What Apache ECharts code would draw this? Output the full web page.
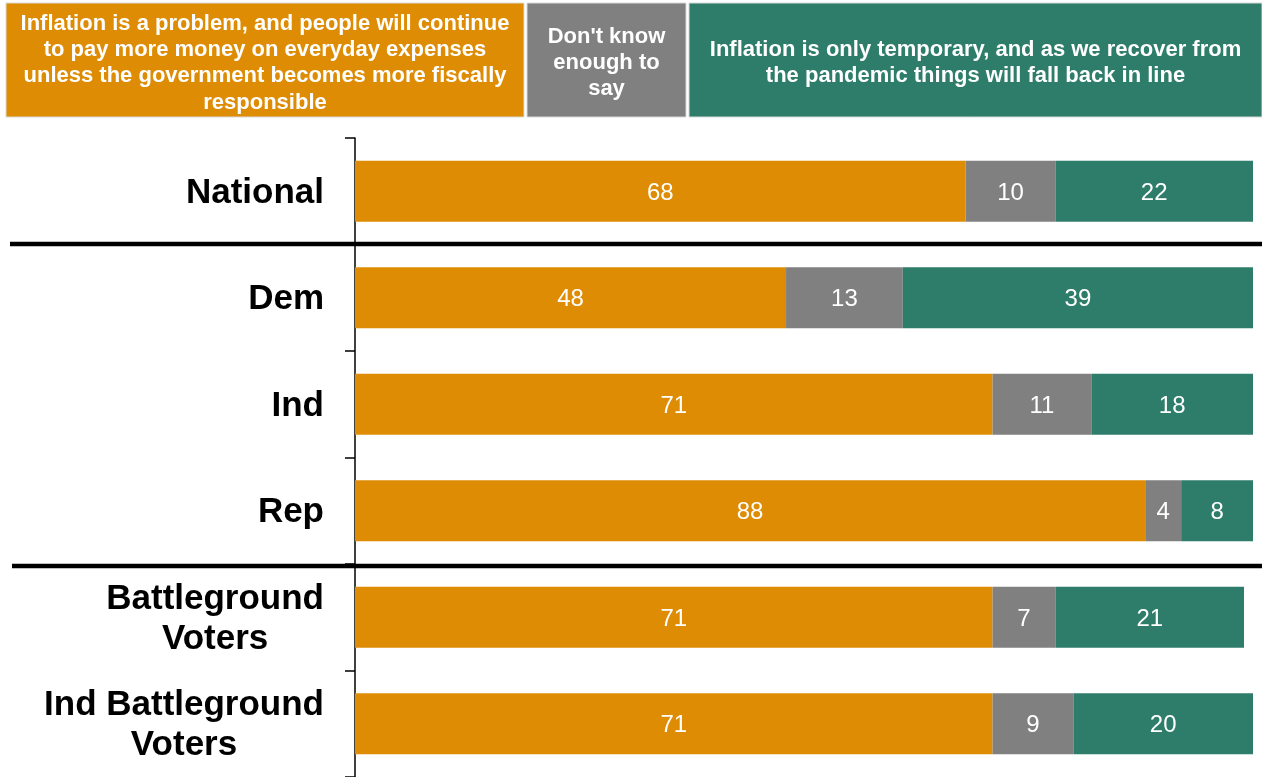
<!DOCTYPE html>
<html><head><meta charset="utf-8">
<script src="https://cdn.jsdelivr.net/npm/echarts@6/dist/echarts.min.js"></script>
<style>html,body{margin:0;padding:0;background:#fff}#c{width:1262px;height:777px}</style>
</head><body><div id="c"></div>
<script>
var categories = ['National', 'Dem', 'Ind', 'Rep', 'Battleground\nVoters', 'Ind Battleground\nVoters'];
var problemValues = [68, 48, 71, 88, 71, 71];
var dontKnowValues = [10, 13, 11, 4, 7, 9];
var temporaryValues = [22, 39, 18, 8, 21, 20];
var seriesNames = [
  'Inflation is a problem, and people will continue\nto pay more money on everyday expenses\nunless the government becomes more fiscally\nresponsible',
  "Don't know\nenough to\nsay",
  'Inflation is only temporary, and as we recover from\nthe pandemic things will fall back in line'
];
var colors = ['#DE8C04', '#808080', '#2E7D6A'];

var chart = echarts.init(document.getElementById('c'), null, {renderer: 'canvas'});
var FONT = '"Liberation Sans", Arial, sans-serif';
function mkSeries(name, data, color) {
  return {
    name: name, type: 'bar', stack: 'total', data: data, barWidth: 61,
    itemStyle: {color: color},
    label: {show: true, position: 'inside', color: '#fff', fontSize: 24, fontFamily: FONT, offset: [0, 2]},
    silent: true
  };
}
function headerBox(x, w, color, text) {
  return [
    {type: 'rect', shape: {x: x, y: 3, width: w, height: 114}, style: {fill: color, stroke: '#d9d9d9', lineWidth: 1}},
    {type: 'text', x: x + w / 2, y: 63, style: {text: text, fill: '#fff', font: 'bold 22px ' + FONT, align: 'center', verticalAlign: 'middle', lineHeight: 26.3}}
  ];
}
var graphics = [].concat(
  headerBox(6, 518, colors[0], seriesNames[0]),
  headerBox(527, 159, colors[1], seriesNames[1]),
  headerBox(689, 573, colors[2], seriesNames[2]),
  [
    {type: 'line', shape: {x1: 10, y1: 244, x2: 1262, y2: 244}, style: {stroke: '#000', lineWidth: 4.5}, z: 100},
    {type: 'line', shape: {x1: 12, y1: 566, x2: 1262, y2: 566}, style: {stroke: '#000', lineWidth: 4.5}, z: 100}
  ]
);
chart.setOption({
  animation: false,
  backgroundColor: '#fff',
  grid: {left: 355, right: 9, top: 138, bottom: 0, containLabel: false},
  xAxis: {type: 'value', min: 0, max: 100, show: false},
  yAxis: {
    type: 'category', data: categories, inverse: true,
    axisLine: {show: true, lineStyle: {color: '#000', width: 1.5}},
    axisTick: {show: true, length: 10, lineStyle: {color: '#000', width: 1.5}},
    axisLabel: {
      color: '#000', fontSize: 35, fontWeight: 'bold', fontFamily: FONT, margin: 31, lineHeight: 40, align: 'right',
      padding: [4, 0, 0, 0],
      formatter: function (v) { return v.split('\n').map(function (l) { return '{c|' + l + '}'; }).join('\n'); },
      rich: {c: {align: 'center', color: '#000', fontSize: 35, fontWeight: 'bold', fontFamily: FONT, lineHeight: 40}}
    }
  },
  series: [
    mkSeries(seriesNames[0], problemValues, colors[0]),
    mkSeries(seriesNames[1], dontKnowValues, colors[1]),
    mkSeries(seriesNames[2], temporaryValues, colors[2])
  ],
  graphic: graphics
});
</script></body></html>
